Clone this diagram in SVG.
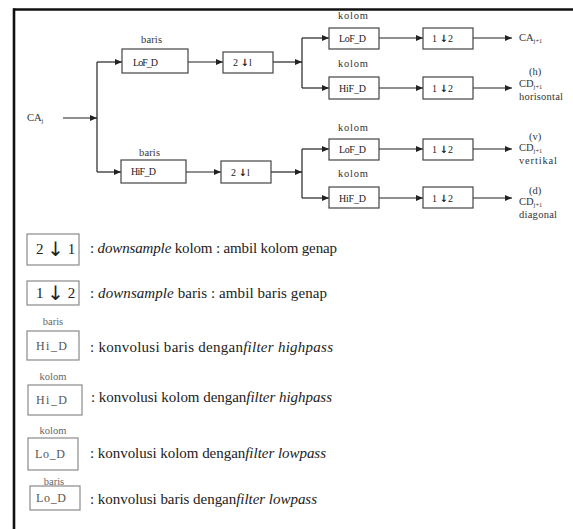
<svg xmlns="http://www.w3.org/2000/svg" width="573" height="529" viewBox="0 0 573 529">
<defs>
<marker id="ah" markerUnits="userSpaceOnUse" markerWidth="7" markerHeight="6" refX="7" refY="3" orient="auto">
<path d="M0,0 L7,3 L0,6 z" fill="#222"/>
</marker>
<style>
.frame{stroke:#111;stroke-width:2.6;fill:none}
.box{fill:#fff;stroke:#444;stroke-width:1.2}
.lbox{fill:#fff;stroke:#8a8a8a;stroke-width:1.2}
.wire{stroke:#222;stroke-width:1.2;fill:none}
.arr{stroke:#222;stroke-width:1.2;fill:none;marker-end:url(#ah)}
.t{font-size:10.5px;fill:#333}
.bt{font-size:10px;fill:#222}
.ar{font-family:'DejaVu Sans',sans-serif;font-weight:bold}
.la{font-family:'DejaVu Sans',sans-serif;font-size:20px}
.lt{font-size:15px;fill:#222}
.lb{font-size:12px;fill:#555}
.ls{font-size:10.5px;fill:#666}
.sub{font-size:6.5px}
</style>
</defs>
<rect width="573" height="529" fill="#fff"/>
<g id="frame">
<line class="frame" x1="13" y1="9.5" x2="573" y2="9.5"/>
<line class="frame" x1="14" y1="8.5" x2="14" y2="529"/>
</g>
<g id="connectors">
<line class="arr" x1="63" y1="118" x2="97" y2="118"/>
<line class="wire" x1="97" y1="62" x2="97" y2="172"/>
<line class="arr" x1="97" y1="62" x2="122" y2="62"/>
<line class="arr" x1="97" y1="172" x2="121" y2="172"/>
<line class="arr" x1="188" y1="62" x2="223" y2="62"/>
<line class="arr" x1="186" y1="172" x2="221" y2="172"/>
<line class="arr" x1="273" y1="62" x2="302" y2="62"/>
<line class="arr" x1="271" y1="172" x2="302" y2="172"/>
<line class="wire" x1="302" y1="38" x2="302" y2="88"/>
<line class="wire" x1="302" y1="149" x2="302" y2="198"/>
<line class="arr" x1="302" y1="38" x2="329" y2="38"/>
<line class="arr" x1="302" y1="88" x2="329" y2="88"/>
<line class="arr" x1="302" y1="149" x2="329" y2="149"/>
<line class="arr" x1="302" y1="198" x2="329" y2="198"/>
<line class="arr" x1="379" y1="38" x2="423" y2="38"/>
<line class="arr" x1="379" y1="88" x2="423" y2="88"/>
<line class="arr" x1="379" y1="149" x2="423" y2="149"/>
<line class="arr" x1="379" y1="198" x2="423" y2="198"/>
<line class="arr" x1="473" y1="38" x2="512" y2="38"/>
<line class="arr" x1="473" y1="88" x2="512" y2="88"/>
<line class="arr" x1="473" y1="149" x2="512" y2="149"/>
<line class="arr" x1="473" y1="198" x2="512" y2="198"/>
</g>
<g font-family="'Liberation Serif', 'Times New Roman', serif">
<g id="input"><text class="t" x="27" y="121">CA<tspan class="sub" dy="2">j</tspan></text></g>
<g id="lofd1">
<text class="t" x="141" y="43" textLength="21">baris</text>
<rect class="box" x="122" y="49" width="66" height="24"/>
<text class="bt" x="133" y="66" textLength="25">LoF_D</text>
</g>
<g id="ds1">
<rect class="box" x="223" y="52" width="50" height="21"/>
<text class="bt" x="233" y="66">2 <tspan class="ar">↓</tspan>l</text>
</g>
<g id="hifd1">
<text class="t" x="139" y="156" textLength="21">baris</text>
<rect class="box" x="121" y="160" width="65" height="23"/>
<text class="bt" x="131" y="175" textLength="25">HiF_D</text>
</g>
<g id="ds2">
<rect class="box" x="221" y="161" width="50" height="22"/>
<text class="bt" x="231" y="176">2 <tspan class="ar">↓</tspan>l</text>
</g>
<g id="lofd2">
<text class="t" x="338" y="19" textLength="30">kolom</text>
<rect class="box" x="329" y="28" width="50" height="21"/>
<text class="bt" x="339" y="42" textLength="27">LoF_D</text>
</g>
<g id="ds3">
<rect class="box" x="423" y="28" width="50" height="21"/>
<text class="bt" x="432" y="42">1 <tspan class="ar">↓</tspan>2</text>
</g>
<g id="out1"><text class="t" x="519" y="41">CA<tspan class="sub" dy="2">j+1</tspan></text></g>
<g id="hifd2">
<text class="t" x="338" y="67" textLength="30">kolom</text>
<rect class="box" x="329" y="77" width="50" height="22"/>
<text class="bt" x="339" y="92" textLength="27">HiF_D</text>
</g>
<g id="ds4">
<rect class="box" x="423" y="77" width="50" height="22"/>
<text class="bt" x="432" y="92">1 <tspan class="ar">↓</tspan>2</text>
</g>
<g id="out2">
<text class="t" x="529" y="75">(h)</text>
<text class="t" x="519" y="87">CD<tspan class="sub" dy="1.5">j+1</tspan></text>
<text class="t" x="519" y="100" textLength="44">horisontal</text>
</g>
<g id="lofd3">
<text class="t" x="338" y="131" textLength="30">kolom</text>
<rect class="box" x="329" y="139" width="50" height="21"/>
<text class="bt" x="339" y="153" textLength="27">LoF_D</text>
</g>
<g id="ds5">
<rect class="box" x="423" y="139" width="50" height="21"/>
<text class="bt" x="432" y="153">1 <tspan class="ar">↓</tspan>2</text>
</g>
<g id="out3">
<text class="t" x="529" y="140">(v)</text>
<text class="t" x="519" y="151">CD<tspan class="sub" dy="1.5">j+1</tspan></text>
<text class="t" x="519" y="164" textLength="38">vertikal</text>
</g>
<g id="hifd3">
<text class="t" x="338" y="177" textLength="30">kolom</text>
<rect class="box" x="329" y="187" width="50" height="21"/>
<text class="bt" x="339" y="202" textLength="27">HiF_D</text>
</g>
<g id="ds6">
<rect class="box" x="423" y="187" width="50" height="21"/>
<text class="bt" x="432" y="202">1 <tspan class="ar">↓</tspan>2</text>
</g>
<g id="out4">
<text class="t" x="529" y="194">(d)</text>
<text class="t" x="519" y="205">CD<tspan class="sub" dy="1.5">j+1</tspan></text>
<text class="t" x="519" y="218" textLength="38">diagonal</text>
</g>
<g id="leg1">
<rect class="lbox" x="27" y="234" width="52" height="31"/>
<text class="lt" x="36" y="254">2 <tspan class="la" dy="2">↓</tspan><tspan dy="-2"> 1</tspan></text>
<text class="lt" x="90" y="253" textLength="247"><tspan>: </tspan><tspan font-style="italic">downsample</tspan><tspan> kolom : ambil kolom genap</tspan></text>
</g>
<g id="leg2">
<rect class="lbox" x="27" y="281" width="52" height="24"/>
<text class="lt" x="36" y="298">1 <tspan class="la" dy="2">↓</tspan><tspan dy="-2"> 2</tspan></text>
<text class="lt" x="90" y="298" textLength="237"><tspan>: </tspan><tspan font-style="italic">downsample</tspan><tspan> baris : ambil baris genap</tspan></text>
</g>
<g id="leg3">
<text class="ls" x="53" y="325" text-anchor="middle">baris</text>
<rect class="lbox" x="27" y="331" width="52" height="29"/>
<text class="lb" x="36" y="350" textLength="31">Hi_D</text>
<text class="lt" x="90" y="352" textLength="243"><tspan>: konvolusi baris dengan</tspan><tspan font-style="italic">filter highpass</tspan></text>
</g>
<g id="leg4">
<text class="ls" x="53" y="380" text-anchor="middle">kolom</text>
<rect class="lbox" x="28" y="385" width="54" height="30"/>
<text class="lb" x="36" y="404" textLength="31">Hi_D</text>
<text class="lt" x="91" y="402" textLength="241"><tspan>: konvolusi kolom dengan</tspan><tspan font-style="italic">filter highpass</tspan></text>
</g>
<g id="leg5">
<text class="ls" x="53" y="434" text-anchor="middle">kolom</text>
<rect class="lbox" x="28" y="438" width="50" height="32"/>
<text class="lb" x="35" y="458" textLength="30">Lo_D</text>
<text class="lt" x="90" y="458" textLength="236"><tspan>: konvolusi kolom dengan</tspan><tspan font-style="italic">filter lowpass</tspan></text>
</g>
<g id="leg6">
<text class="ls" x="54" y="485" text-anchor="middle">baris</text>
<rect class="lbox" x="30" y="486" width="50" height="24"/>
<text class="lb" x="36" y="502" textLength="30">Lo_D</text>
<text class="lt" x="90" y="504" textLength="227"><tspan>: konvolusi baris dengan</tspan><tspan font-style="italic">filter lowpass</tspan></text>
</g>
</g>
</svg>
